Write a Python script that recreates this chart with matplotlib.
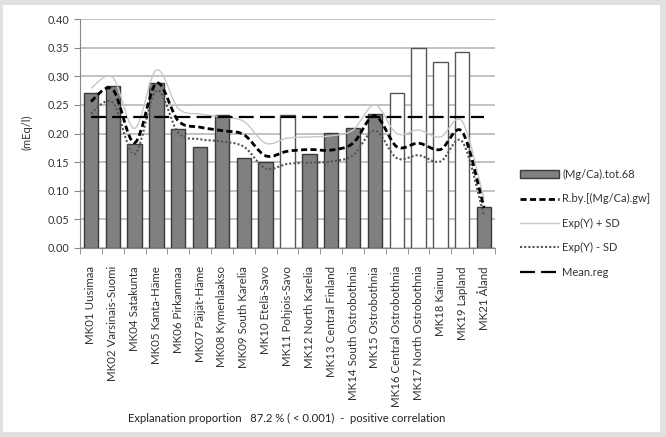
import matplotlib
matplotlib.use("Agg")
import matplotlib.pyplot as plt
from matplotlib.path import Path
from matplotlib.patches import PathPatch, Rectangle
from matplotlib.lines import Line2D
from matplotlib.patches import Patch
import numpy as np

plt.rcParams['font.family'] = ['Lato', 'DejaVu Sans']

categories = ["MK01 Uusimaa", "MK02 Varsinais-Suomi", "MK04 Satakunta", "MK05 Kanta-Häme",
              "MK06 Pirkanmaa", "MK07 Päijät-Häme", "MK08 Kymenlaakso", "MK09 South Karelia",
              "MK10 Etelä-Savo", "MK11 Pohjois-Savo", "MK12 North Karelia", "MK13 Central Finland",
              "MK14 South Ostrobothnia", "MK15 Ostrobothnia", "MK16 Central Ostrobothnia",
              "MK17 North Ostrobothnia", "MK18 Kainuu", "MK19 Lapland", "MK21 Åland"]
bar_values = [0.271, 0.283, 0.182, 0.288, 0.208, 0.176, 0.233, 0.157, 0.151, 0.232,
              0.165, 0.201, 0.210, 0.234, 0.271, 0.350, 0.325, 0.342, 0.072]
bar_filled = [True, True, True, True, True, True, True, True, True, False,
              True, True, True, True, False, False, False, False, True]
r_by = [0.256, 0.277, 0.184, 0.288, 0.222, 0.211, 0.205, 0.198, 0.161, 0.169,
        0.172, 0.171, 0.183, 0.231, 0.177, 0.183, 0.172, 0.203, 0.070]
exp_plus_sd = [0.279, 0.298, 0.209, 0.311, 0.244, 0.234, 0.229, 0.221, 0.183, 0.192,
               0.194, 0.196, 0.206, 0.250, 0.200, 0.206, 0.194, 0.221, 0.085]
exp_minus_sd = [0.235, 0.254, 0.164, 0.275, 0.201, 0.190, 0.186, 0.177, 0.139, 0.147,
                0.149, 0.151, 0.162, 0.205, 0.157, 0.162, 0.151, 0.186, 0.055]
mean_reg = 0.229
caption = "Explanation proportion   87.2 % ( < 0.001)  -  positive correlation"

W, H = 666, 437
fig = plt.figure(figsize=(W / 100, H / 100), dpi=100)
fig.patch.set_facecolor("#e1e1e1")
fig.patches.append(Rectangle((3 / W, 1 - 432 / H), 657 / W, 427 / H,
                             transform=fig.transFigure, facecolor="white",
                             edgecolor="none", zorder=-5))

ax = fig.add_axes([80 / W, 1 - 248 / H, 415 / W, 229 / H])
ax.set_facecolor("none")
ax.set_zorder(2)
x = np.arange(len(categories))

for xi, v, f in zip(x, bar_values, bar_filled):
    ax.bar(xi, v, width=0.66, color="#808080" if f else "white",
           edgecolor="#3a3a3a" if f else "#555555", linewidth=1.0, zorder=2)


def smooth_path(xs, ys, k=1 / 6.0):
    pts = np.column_stack([xs, ys])
    verts = [pts[0]]
    codes = [Path.MOVETO]
    n = len(pts)
    for i in range(n - 1):
        p0 = pts[i - 1] if i > 0 else pts[i]
        p1 = pts[i]
        p2 = pts[i + 1]
        p3 = pts[i + 2] if i + 2 < n else pts[i + 1]
        c1 = p1 + (p2 - p0) * k
        c2 = p2 - (p3 - p1) * k
        verts += [c1, c2, p2]
        codes += [Path.CURVE4] * 3
    return Path(verts, codes)


def add_smooth(ys, **kw):
    patch = PathPatch(smooth_path(x, ys), facecolor="none", zorder=3, **kw)
    ax.add_patch(patch)


add_smooth(exp_plus_sd, edgecolor="#c8c8c8", linewidth=1.0)
add_smooth(exp_minus_sd, edgecolor="#555555", linewidth=1.5, linestyle=(0, (1, 1)))
add_smooth(r_by, edgecolor="black", linewidth=2.0, linestyle=(0, (2.2, 1.2)))
ax.plot([x[0], x[-1]], [mean_reg, mean_reg], color="black", linewidth=1.6,
        dashes=(6.7, 2.8), zorder=3)

ax.set_xlim(-0.5, len(categories) - 0.5)
ax.set_ylim(0, 0.40)
ax.set_yticks(np.arange(0, 0.401, 0.05))
ax.set_yticklabels([f"{v:.2f}" for v in np.arange(0, 0.401, 0.05)], fontsize=7.8, color="#333333")
ax.yaxis.grid(True, color="#bdbdbd", linewidth=1.3, zorder=0)
ax.set_axisbelow(True)
ax.set_xticks(x)
ax.set_xticklabels(categories, rotation=90, fontsize=8.3, color="#333333")
ax.set_xticks(np.arange(-0.5, len(categories), 1), minor=True)
ax.tick_params(axis="x", which="major", length=0, pad=13)
ax.tick_params(axis="x", which="minor", length=4, color="#888888")
ax.tick_params(axis="y", length=4, color="#888888", pad=4)
for s in ["top", "right"]:
    ax.spines[s].set_visible(False)
ax.spines["left"].set_color("#888888")
ax.spines["bottom"].set_color("#888888")

fig.text(27 / W, 1 - 132 / H, "(mEq/l)", rotation=90, fontsize=8,
         color="#333333", ha="center", va="center")
fig.text(128 / W, 1 - 418 / H, caption, fontsize=8.1, color="#222222",
         ha="left", va="center")

handles = [
    Patch(facecolor="#808080", edgecolor="#3a3a3a", linewidth=1.0),
    Line2D([], [], color="black", linewidth=2.0, linestyle=(0, (2.2, 1.2))),
    Line2D([], [], color="#c8c8c8", linewidth=1.0),
    Line2D([], [], color="#555555", linewidth=1.5, linestyle=(0, (1, 1))),
    Line2D([], [], color="black", linewidth=1.6, dashes=(6.7, 2.8)),
]
labels = ["(Mg/Ca).tot.68", "R.by.[(Mg/Ca).gw]", "Exp(Y) + SD", "Exp(Y) - SD", "Mean.reg"]
fig.legend(handles, labels, loc="upper left", bbox_to_anchor=(520 / W, 1 - 169 / H),
           frameon=False, fontsize=8.0, handlelength=3.5, handletextpad=0.3,
           labelspacing=1.2, borderaxespad=0, borderpad=0, labelcolor="#333333")

fig.savefig("out.png", dpi=100, facecolor=fig.get_facecolor())
